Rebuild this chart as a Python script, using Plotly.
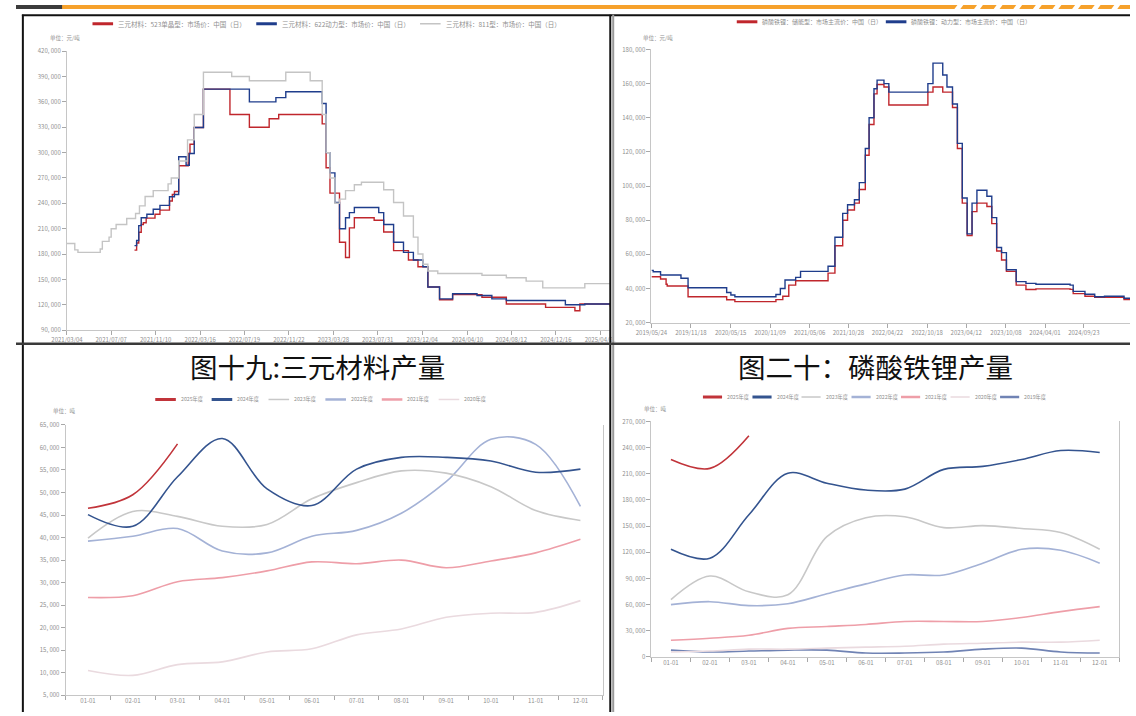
import plotly.graph_objects as go

W, H = 1136, 716


def fx(x):
    return x / W


def fy(y):
    return 1 - y / H


# ---------- 三元材料价格（元/吨，阶梯） ----------
ncm523_dates = ["2021-09-11", "2021-09-17", "2021-09-23", "2021-09-30", "2021-10-06", "2021-10-14",
                "2021-11-08", "2021-11-22", "2021-12-19", "2021-12-27", "2022-01-02", "2022-01-14",
                "2022-02-10", "2022-02-15", "2022-02-27", "2022-03-25", "2022-06-08", "2022-08-02",
                "2022-09-27", "2022-10-24", "2023-02-24", "2023-03-07", "2023-03-18", "2023-04-14",
                "2023-05-01", "2023-05-12", "2023-05-26", "2023-07-21", "2023-08-17", "2023-09-14",
                "2023-10-26", "2023-11-22", "2023-12-20", "2024-01-22", "2024-02-28", "2024-05-21",
                "2024-07-29", "2024-11-17", "2025-02-08", "2025-02-22", "2025-05-19"]
ncm523_price = [184700, 193000, 205700, 215000, 217000, 222500,
                227000, 232000, 242800, 250500, 254000, 284500,
                299000, 309800, 329600, 375000, 345000, 330000,
                340000, 345000, 334000, 282000, 252000, 194000,
                176000, 211000, 223000, 220000, 206000, 184000,
                173000, 165000, 141000, 126000, 132000, 129000,
                121000, 117000, 113000, 121000, 118000]

ncm622_dates = ["2021-09-11", "2021-09-17", "2021-09-23", "2021-09-30", "2021-10-16", "2021-11-03",
                "2021-11-22", "2021-12-19", "2022-01-02", "2022-01-14", "2022-02-04", "2022-02-13",
                "2022-02-27", "2022-03-25", "2022-08-02", "2022-10-16", "2022-11-13", "2023-02-24",
                "2023-03-07", "2023-03-18", "2023-04-01", "2023-04-14", "2023-05-01", "2023-05-12",
                "2023-05-26", "2023-08-03", "2023-08-17", "2023-09-14", "2023-10-12", "2023-11-09",
                "2023-12-06", "2023-12-20", "2024-01-22", "2024-02-28", "2024-05-07", "2024-06-18",
                "2024-07-29", "2025-01-12", "2025-03-08", "2025-05-19"]
ncm622_price = [190000, 196000, 213600, 223000, 227000, 233000,
                237600, 247800, 250500, 295000, 285000, 299000,
                329600, 375000, 360000, 365000, 372000, 358000,
                300000, 276000, 241000, 210000, 223000, 229000,
                235000, 229000, 215000, 194000, 182000, 173000,
                165000, 141000, 127000, 133000, 131000, 127000,
                125000, 120000, 121000, 121000]

ncm811_dates = ["2021-03-04", "2021-03-26", "2021-04-04", "2021-06-06", "2021-06-12", "2021-07-01",
                "2021-07-07", "2021-07-21", "2021-08-20", "2021-09-14", "2021-09-25", "2021-10-11",
                "2021-11-03", "2021-12-15", "2021-12-24", "2022-01-14", "2022-02-08", "2022-02-27",
                "2022-03-25", "2022-06-13", "2022-08-02", "2022-11-13", "2023-01-21", "2023-02-24",
                "2023-03-07", "2023-03-18", "2023-04-01", "2023-04-14", "2023-05-01", "2023-05-26",
                "2023-06-15", "2023-08-17", "2023-09-14", "2023-10-12", "2023-11-09", "2023-11-22",
                "2023-12-06", "2023-12-20", "2024-01-17", "2024-05-21", "2024-07-29", "2024-09-23",
                "2024-11-09", "2025-03-08", "2025-05-19"]
ncm811_price = [192500, 185000, 182000, 186000, 195000, 200000,
                210000, 215000, 222000, 228000, 237000, 248000,
                255000, 263000, 270000, 290000, 315000, 345000,
                395000, 390000, 385000, 395000, 385000, 345000,
                300000, 270000, 240000, 245000, 255000, 262000,
                265000, 256000, 241000, 225000, 200000, 180000,
                168000, 160000, 157000, 155000, 152000, 148000,
                140000, 145000, 145000]

ncm_ticks = ["2021/03/04", "2021/07/07", "2021/11/10", "2022/03/16", "2022/07/19", "2022/11/22",
             "2023/03/28", "2023/07/31", "2023/12/04", "2024/04/10", "2024/08/12", "2024/12/16",
             "2025/04/21"]

# ---------- 磷酸铁锂价格（元/吨，阶梯） ----------
lfp_es_dates = ["2019-05-24", "2019-07-04", "2019-07-29", "2019-08-03", "2019-11-05", "2020-04-27",
                "2020-06-03", "2020-12-05", "2021-01-05", "2021-02-01", "2021-03-04", "2021-07-28",
                "2021-08-28", "2021-10-02", "2021-10-24", "2021-11-24", "2021-12-16", "2022-01-12",
                "2022-01-29", "2022-02-20", "2022-03-06", "2022-04-06", "2022-04-28", "2022-10-21",
                "2022-11-13", "2022-12-27", "2023-02-09", "2023-03-03", "2023-03-25", "2023-04-16",
                "2023-05-08", "2023-05-30", "2023-07-14", "2023-08-05", "2023-08-27", "2023-09-18",
                "2023-10-10", "2023-11-23", "2024-01-06", "2024-02-20", "2024-07-23", "2024-08-06",
                "2024-09-28", "2024-11-11", "2025-03-23", "2025-04-19"]
lfp_es_price = [46900, 45600, 42500, 41500, 35200, 33400,
                32300, 33500, 35500, 42000, 44500, 49000,
                65000, 80000, 86000, 90000, 98000, 118000,
                136000, 154000, 159500, 158000, 147500, 155000,
                158000, 155000, 146000, 122000, 90000, 71000,
                85000, 90000, 88000, 78000, 62000, 56700,
                50000, 42000, 39400, 39800, 39500, 37000,
                35500, 34800, 33500, 33500]

lfp_ev_dates = ["2019-05-24", "2019-06-01", "2019-07-04", "2019-10-04", "2019-11-05", "2020-04-27",
                "2020-05-16", "2020-06-03", "2020-12-05", "2020-12-25", "2021-01-15", "2021-03-04",
                "2021-03-26", "2021-07-28", "2021-08-28", "2021-10-02", "2021-10-24", "2021-11-24",
                "2021-12-16", "2022-01-12", "2022-01-29", "2022-02-20", "2022-03-06", "2022-04-06",
                "2022-04-28", "2022-10-21", "2022-11-13", "2022-12-27", "2023-01-15", "2023-02-09",
                "2023-03-03", "2023-03-25", "2023-04-16", "2023-05-08", "2023-05-30", "2023-07-14",
                "2023-08-05", "2023-08-27", "2023-09-18", "2023-10-10", "2023-11-23", "2024-01-06",
                "2024-02-20", "2024-07-23", "2024-08-06", "2024-09-28", "2024-11-11", "2024-12-25",
                "2025-03-23", "2025-04-19"]
lfp_ev_price = [50600, 49800, 47900, 46000, 40400, 37700,
                36200, 35200, 36500, 40000, 45000, 46500,
                50000, 53000, 70000, 84000, 89000, 92000,
                102000, 122000, 140000, 157000, 162000, 160000,
                155000, 160000, 172000, 165000, 158000, 148000,
                125000, 93000, 72000, 90000, 97500, 94000,
                81500, 64000, 61000, 51000, 44000, 43000,
                42500, 42000, 38300, 36600, 35200, 35500,
                34300, 34300]

lfp_ticks = ["2019/05/24", "2019/11/18", "2020/05/15", "2020/11/09", "2021/05/06", "2021/10/28",
             "2022/04/22", "2022/10/18", "2023/04/12", "2023/10/08", "2024/04/01", "2024/09/23"]

# ---------- 月度产量（吨） ----------
months = ["01-01", "02-01", "03-01", "04-01", "05-01", "06-01",
          "07-01", "08-01", "09-01", "10-01", "11-01", "12-01"]

ncm_out_2025 = [46500, 49500, 60800]
ncm_out_2024 = [45100, 42500, 53500, 62000, 50800, 47100, 55200, 57800, 57800, 57000, 54500, 55200]
ncm_out_2023 = [39900, 45800, 44700, 42500, 42900, 48600, 52200, 54800, 54300, 51300, 46000, 43800]
ncm_out_2022 = [39200, 40300, 42000, 37000, 36600, 40300, 41600, 45400, 52400, 61800, 60700, 46900]
ncm_out_2021 = [26700, 27100, 30200, 31100, 32600, 34600, 34200, 35000, 33300, 34800, 36600, 39600]
ncm_out_2020 = [10500, 9400, 11800, 12400, 14600, 15300, 18400, 19700, 22300, 23200, 23400, 26000]

lfp_out_2025 = [226400, 216200, 253600]
lfp_out_2024 = [123400, 113200, 163000, 210600, 199200, 191300, 192400, 215000, 218500, 226400, 236600, 234300]
lfp_out_2023 = [65700, 92800, 74700, 71300, 138000, 159600, 160700, 148300, 150600, 147200, 142600, 123400]
lfp_out_2022 = [60000, 63400, 58900, 61100, 72400, 83800, 94000, 94000, 107500, 123400, 122300, 107500]
lfp_out_2021 = [19200, 21500, 24900, 32800, 35000, 37300, 40700, 40700, 40700, 45300, 52000, 57700]
lfp_out_2020 = [5700, 6800, 9000, 9000, 10200, 11300, 12400, 14700, 15800, 17000, 17000, 19200]
lfp_out_2019 = [7900, 5700, 6800, 7900, 7900, 4500, 4500, 5700, 9000, 10200, 5700, 4500]

year_colors = {
    "2025年度": "#c1343a",
    "2024年度": "#34548f",
    "2023年度": "#c8c8c8",
    "2022年度": "#a4b2d6",
    "2021年度": "#ee9ea8",
    "2020年度": "#eadadf",
    "2019年度": "#7083b4",
}

FONT = "Noto Sans CJK SC"
TEXT_GRAY = "#8f8f8f"
TICK_FONT = dict(family=FONT, size=6, color=TEXT_GRAY)
RED, BLUE, GRAY = "#c0262c", "#1f3d8c", "#c4c4c4"

fig = go.Figure()


def to_iso(t):
    return t.replace("/", "-")


# 三元材料价格
ncm_price_series = [
    ("三元材料：523单晶型：市场价：中国（日）", ncm523_dates, ncm523_price, RED),
    ("三元材料：622动力型：市场价：中国（日）", ncm622_dates, ncm622_price, BLUE),
    ("三元材料：811型：市场价：中国（日）", ncm811_dates, ncm811_price, GRAY),
]
for name, d, v, c in ncm_price_series:
    fig.add_trace(go.Scatter(x=d, y=v, name=name, mode="lines", line=dict(color=c, width=1.4, shape="hv"),
                             xaxis="x", yaxis="y"))

# 磷酸铁锂价格
lfp_price_series = [
    ("磷酸铁锂：储能型：市场主流价：中国（日）", lfp_es_dates, lfp_es_price, RED),
    ("磷酸铁锂：动力型：市场主流价：中国（日）", lfp_ev_dates, lfp_ev_price, BLUE),
]
for name, d, v, c in lfp_price_series:
    fig.add_trace(go.Scatter(x=d, y=v, name=name, mode="lines", line=dict(color=c, width=1.4, shape="hv"),
                             xaxis="x2", yaxis="y2"))

# 三元材料产量
ncm_out = [("2025年度", ncm_out_2025), ("2024年度", ncm_out_2024), ("2023年度", ncm_out_2023),
           ("2022年度", ncm_out_2022), ("2021年度", ncm_out_2021), ("2020年度", ncm_out_2020)]
for name, v in reversed(ncm_out):
    fig.add_trace(go.Scatter(x=months[:len(v)], y=v, name=name, mode="lines",
                             line=dict(color=year_colors[name], width=1.6, shape="spline", smoothing=1),
                             xaxis="x3", yaxis="y3"))

# 磷酸铁锂产量
lfp_out = [("2025年度", lfp_out_2025), ("2024年度", lfp_out_2024), ("2023年度", lfp_out_2023),
           ("2022年度", lfp_out_2022), ("2021年度", lfp_out_2021), ("2020年度", lfp_out_2020),
           ("2019年度", lfp_out_2019)]
for name, v in reversed(lfp_out):
    fig.add_trace(go.Scatter(x=months[:len(v)], y=v, name=name, mode="lines",
                             line=dict(color=year_colors[name], width=1.6, shape="spline", smoothing=1),
                             xaxis="x4", yaxis="y4"))


def yticks(lo, hi, step):
    vals = list(range(lo, hi + 1, step))
    return vals, [f"{v:,}".replace(",", ", ") for v in vals]


axis_common = dict(showline=True, linecolor="#c6c6c6", linewidth=1, ticks="outside", ticklen=4,
                   tickcolor="#a8a8a8", tickfont=TICK_FONT, showgrid=False, zeroline=False,
                   fixedrange=True, tickangle=0)

tv, tt = yticks(90000, 420000, 30000)
fig.update_layout(
    xaxis=dict(axis_common, type="date", domain=[fx(52), fx(606)], anchor="y",
               range=["2021-03-04", "2025-05-19"],
               tickvals=[to_iso(t) for t in ncm_ticks], ticktext=ncm_ticks),
    yaxis=dict(axis_common, domain=[fy(329.3), fy(46.7)], anchor="x", range=[90000, 420000],
               tickvals=tv, ticktext=tt),
)
tv, tt = yticks(20000, 180000, 20000)
fig.update_layout(
    xaxis2=dict(axis_common, type="date", domain=[fx(648), fx(1136)], anchor="y2",
                range=["2019-05-24", "2025-04-19"],
                tickvals=[to_iso(t) for t in lfp_ticks], ticktext=lfp_ticks),
    yaxis2=dict(axis_common, domain=[fy(321.7), fy(45)], anchor="x2", range=[20000, 180000],
                tickvals=tv, ticktext=tt),
)
tv, tt = yticks(5000, 65000, 5000)
fig.update_layout(
    xaxis3=dict(axis_common, type="category", domain=[fx(50.6), fx(598.4)], anchor="y3",
                range=[-0.5, 11.5], tickson="boundaries", categoryorder="array", categoryarray=months),
    yaxis3=dict(axis_common, domain=[fy(699), fy(425.3)], anchor="x3", range=[5000, 65000],
                tickvals=tv, ticktext=tt, mirror=True),
)
tv, tt = yticks(0, 270000, 30000)
fig.update_layout(
    xaxis4=dict(axis_common, type="category", domain=[fx(648), fx(1125)], anchor="y4",
                range=[-0.5, 11.5], tickson="boundaries", categoryorder="array", categoryarray=months),
    yaxis4=dict(axis_common, domain=[fy(660.3), fy(421.7)], anchor="x4", range=[0, 270000],
                tickvals=tv, ticktext=tt, mirror=True),
)

shapes = []
annotations = []


def text(s, x, y, size, color=TEXT_GRAY, anchor="left"):
    annotations.append(dict(text=s, x=fx(x), y=fy(y), xref="paper", yref="paper", xanchor=anchor,
                            yanchor="middle", showarrow=False, font=dict(family=FONT, size=size, color=color)))


def hline(x0, x1, y, color, width):
    shapes.append(dict(type="line", xref="paper", yref="paper", x0=fx(x0), x1=fx(x1), y0=fy(y), y1=fy(y),
                       line=dict(color=color, width=width), layer="above"))


def legend_row(entries, starts, y, size, sym_len=21, gap=3):
    for (name, color, lw), x0 in zip(entries, starts):
        hline(x0, x0 + sym_len, y, color, lw)
        text(name, x0 + sym_len + gap, y, size)


legend_row([(n, c, 3 if c != GRAY else 1.5) for n, _, _, c in ncm_price_series],
           [78, 245, 412], 19, 6.5)
legend_row([(n, c, 3) for n, _, _, c in lfp_price_series], [735, 887], 17, 6)
ncm_lw = {"2025年度": 3, "2024年度": 3, "2023年度": 1.5, "2022年度": 2.5, "2021年度": 2.5, "2020年度": 1.5}
legend_row([(n, year_colors[n], ncm_lw[n]) for n, _ in ncm_out],
           [142, 199.5, 257.5, 315.5, 373, 431], 399.5, 5.2)
lfp_lw = dict(ncm_lw, **{"2019年度": 2.5})
legend_row([(n, year_colors[n], lfp_lw[n]) for n, _ in lfp_out],
           [700.5, 751, 801, 852, 902.5, 953, 1003.5], 397, 5.2, sym_len=19.5)

text("单位：元/吨", 33, 33, 5.5)
text("单位：元/吨", 637, 33, 5.5)
text("单位：吨", 36, 411, 5.5)
text("单位：吨", 638, 409, 5.5)
text("图十九:三元材料产量", 307.5, 366, 27.5, "#111", "center")
text("图二十：磷酸铁锂产量", 876, 366, 27.5, "#111", "center")


def rect(x0, y0, x1, y1, color):
    shapes.append(dict(type="rect", xref="paper", yref="paper", x0=fx(x0), x1=fx(x1), y0=fy(y1), y1=fy(y0),
                       fillcolor=color, line=dict(width=0), layer="above"))


def vline(x, y0, y1, color, width):
    shapes.append(dict(type="line", xref="paper", yref="paper", x0=fx(x), x1=fx(x), y0=fy(y0), y1=fy(y1),
                       line=dict(color=color, width=width), layer="above"))


# 页面装饰与分栏框线
rect(607.5, 326, 628, 341, "white")
rect(0, 0, 1136, 4, "#f6a12b")
rect(0, 0, 47, 4, "#3c3c3c")
hline(6, 1136, 10.5, "#111", 2)
vline(7, 10, 716, "#111", 2)
vline(606, 10, 716, "#111", 2)
vline(609, 10, 716, "#9a9a9a", 2)
hline(0, 1136, 343, "#3a3a3a", 2.5)
for i in range(9):
    x0 = 960 + i * 20
    shapes.append(dict(type="path", xref="paper", yref="paper",
                       path=f"M{fx(x0)},{fy(0)} L{fx(x0 + 6)},{fy(0)} L{fx(x0 + 3)},{fy(4)} L{fx(x0 - 3)},{fy(4)} Z",
                       fillcolor="white", line=dict(width=0), layer="above"))

fig.update_layout(
    width=W, height=H, margin=dict(l=0, r=0, t=0, b=0),
    paper_bgcolor="white", plot_bgcolor="white",
    annotations=annotations, shapes=shapes, showlegend=False,
)

fig.write_html("out.html")
